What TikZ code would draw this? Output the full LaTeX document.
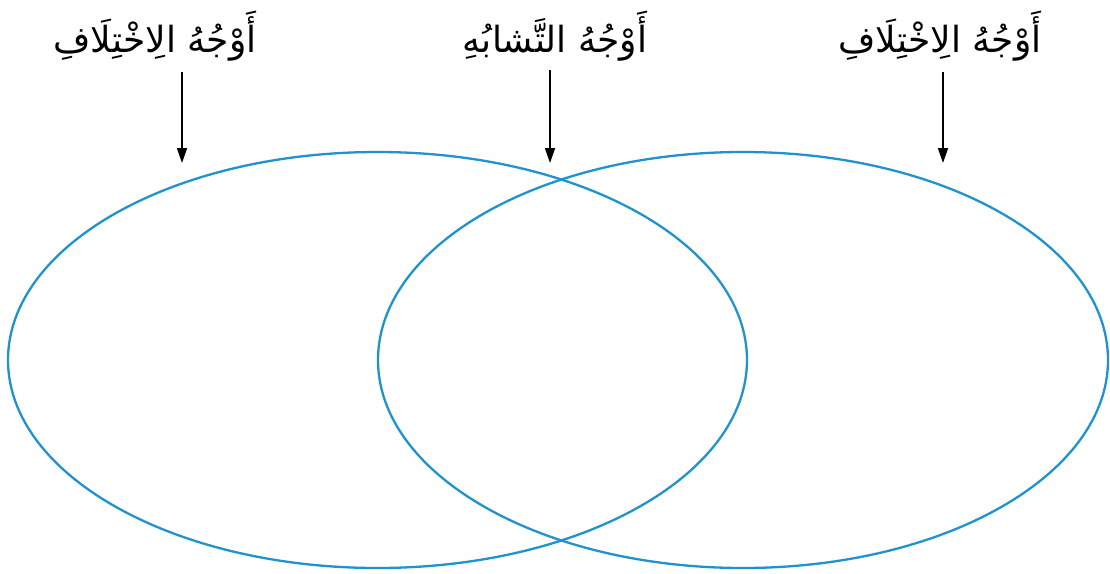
\documentclass[tikz,border=0pt]{standalone}
\usepackage{fontspec}
\usetikzlibrary{shapes.geometric,arrows.meta}
\TeXXeTstate=1
\newfontfamily\arabicfont[Script=Arabic]{DejaVu Sans}
\definecolor{vennblue}{RGB}{32,146,206}
\tikzset{
  vennset/.style={ellipse, draw=vennblue, line width=2.3pt, inner sep=0pt},
  labeltext/.style={font=\arabicfont\fontsize{36}{40}\selectfont, inner sep=0pt},
  pointer/.style={draw=black, line width=1.8pt, -{Triangle[width=10pt,length=15pt]}}
}
\begin{document}
\begin{tikzpicture}[x=1pt,y=-1pt]
\useasboundingbox (0,0) rectangle (1110,573);
\node[vennset, minimum width=739pt, minimum height=416pt] (left) at (377.5,360) {};
\node[vennset, minimum width=730pt, minimum height=416pt] (right) at (743,360) {};
\node[labeltext] (labL) at (155,36) {\beginR أَوْجُهُ الِاخْتِلَافِ\endR};
\node[labeltext] (labM) at (555,36) {\beginR أَوْجُهُ التَّشابُهِ\endR};
\node[labeltext] (labR) at (940,36) {\beginR أَوْجُهُ الِاخْتِلَافِ\endR};
\coordinate (sL) at (182,72);
\coordinate (tL) at (182,163);
\coordinate (sM) at (550,70);
\coordinate (tM) at (550,163);
\coordinate (sR) at (943,72);
\coordinate (tR) at (943,163);
\draw[pointer] (sL) -- (tL);
\draw[pointer] (sM) -- (tM);
\draw[pointer] (sR) -- (tR);
\end{tikzpicture}
\end{document}
